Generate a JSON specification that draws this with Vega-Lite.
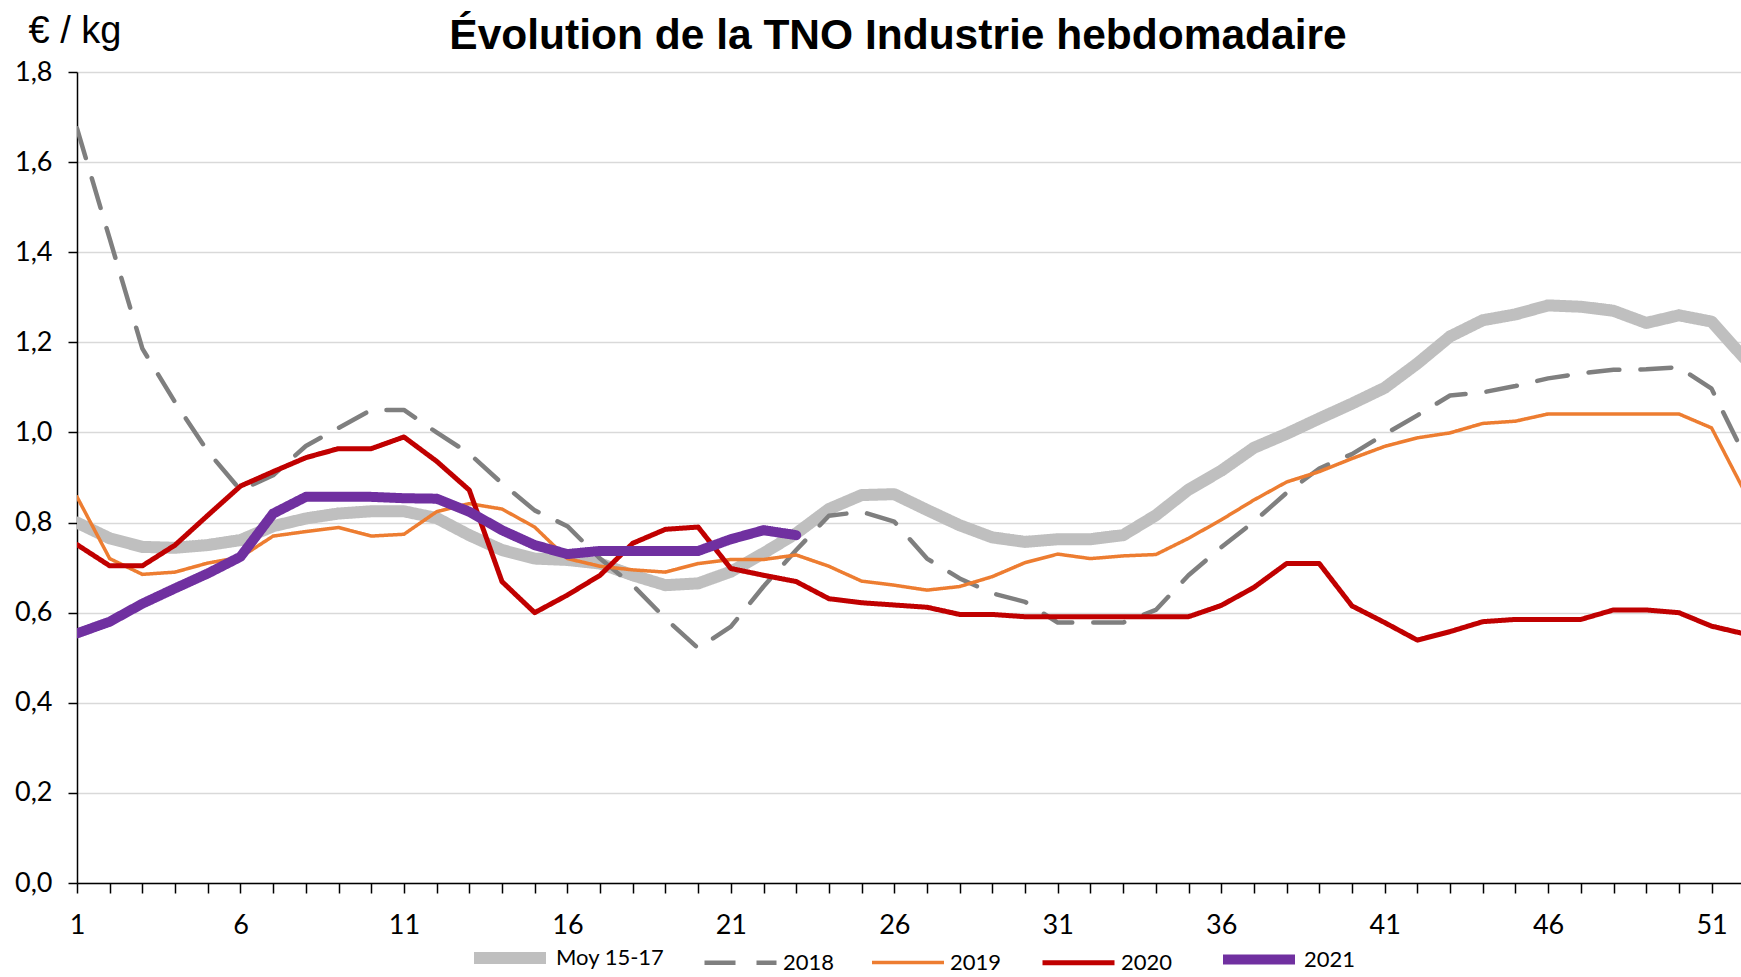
{
  "$schema": "https://vega.github.io/schema/vega-lite/v6.json",
  "autosize": {"type": "none"},
  "width": 1664,
  "height": 811,
  "padding": {"left": 77, "top": 72, "right": 0, "bottom": 94},
  "background": "white",
  "title": {
    "text": "Évolution de la TNO Industrie hebdomadaire",
    "font": "Liberation Sans",
    "fontWeight": "bold",
    "fontSize": 42.5,
    "color": "#000000",
    "anchor": "middle",
    "frame": "group",
    "baseline": "alphabetic",
    "offset": -79,
    "dx": -11
  },
  "config": {
    "view": {"stroke": null},
    "axis": {"labelFont": "Lato", "labelColor": "#000000", "titleFont": "Liberation Sans"},
    "legend": {"labelFont": "Lato"}
  },
  "data": {
    "values": [
      {"week": 1, "series": "Moy 15-17", "price": 0.80},
      {"week": 2, "series": "Moy 15-17", "price": 0.765},
      {"week": 3, "series": "Moy 15-17", "price": 0.746},
      {"week": 4, "series": "Moy 15-17", "price": 0.744},
      {"week": 5, "series": "Moy 15-17", "price": 0.75},
      {"week": 6, "series": "Moy 15-17", "price": 0.761},
      {"week": 7, "series": "Moy 15-17", "price": 0.792},
      {"week": 8, "series": "Moy 15-17", "price": 0.809},
      {"week": 9, "series": "Moy 15-17", "price": 0.82},
      {"week": 10, "series": "Moy 15-17", "price": 0.825},
      {"week": 11, "series": "Moy 15-17", "price": 0.825},
      {"week": 12, "series": "Moy 15-17", "price": 0.81},
      {"week": 13, "series": "Moy 15-17", "price": 0.772},
      {"week": 14, "series": "Moy 15-17", "price": 0.739},
      {"week": 15, "series": "Moy 15-17", "price": 0.72},
      {"week": 16, "series": "Moy 15-17", "price": 0.717},
      {"week": 17, "series": "Moy 15-17", "price": 0.709},
      {"week": 18, "series": "Moy 15-17", "price": 0.683},
      {"week": 19, "series": "Moy 15-17", "price": 0.661},
      {"week": 20, "series": "Moy 15-17", "price": 0.665},
      {"week": 21, "series": "Moy 15-17", "price": 0.691},
      {"week": 22, "series": "Moy 15-17", "price": 0.732},
      {"week": 23, "series": "Moy 15-17", "price": 0.776},
      {"week": 24, "series": "Moy 15-17", "price": 0.83},
      {"week": 25, "series": "Moy 15-17", "price": 0.861},
      {"week": 26, "series": "Moy 15-17", "price": 0.863},
      {"week": 27, "series": "Moy 15-17", "price": 0.828},
      {"week": 28, "series": "Moy 15-17", "price": 0.794},
      {"week": 29, "series": "Moy 15-17", "price": 0.767},
      {"week": 30, "series": "Moy 15-17", "price": 0.757},
      {"week": 31, "series": "Moy 15-17", "price": 0.763},
      {"week": 32, "series": "Moy 15-17", "price": 0.763},
      {"week": 33, "series": "Moy 15-17", "price": 0.772},
      {"week": 34, "series": "Moy 15-17", "price": 0.816},
      {"week": 35, "series": "Moy 15-17", "price": 0.873},
      {"week": 36, "series": "Moy 15-17", "price": 0.915},
      {"week": 37, "series": "Moy 15-17", "price": 0.966},
      {"week": 38, "series": "Moy 15-17", "price": 0.997},
      {"week": 39, "series": "Moy 15-17", "price": 1.031},
      {"week": 40, "series": "Moy 15-17", "price": 1.064},
      {"week": 41, "series": "Moy 15-17", "price": 1.099},
      {"week": 42, "series": "Moy 15-17", "price": 1.153},
      {"week": 43, "series": "Moy 15-17", "price": 1.213},
      {"week": 44, "series": "Moy 15-17", "price": 1.249},
      {"week": 45, "series": "Moy 15-17", "price": 1.262},
      {"week": 46, "series": "Moy 15-17", "price": 1.282},
      {"week": 47, "series": "Moy 15-17", "price": 1.279},
      {"week": 48, "series": "Moy 15-17", "price": 1.27},
      {"week": 49, "series": "Moy 15-17", "price": 1.243},
      {"week": 50, "series": "Moy 15-17", "price": 1.26},
      {"week": 51, "series": "Moy 15-17", "price": 1.246},
      {"week": 52, "series": "Moy 15-17", "price": 1.165},
      {"week": 1, "series": "2018", "price": 1.675},
      {"week": 2, "series": "2018", "price": 1.43},
      {"week": 3, "series": "2018", "price": 1.186},
      {"week": 4, "series": "2018", "price": 1.067},
      {"week": 5, "series": "2018", "price": 0.958},
      {"week": 6, "series": "2018", "price": 0.872},
      {"week": 7, "series": "2018", "price": 0.905},
      {"week": 8, "series": "2018", "price": 0.97},
      {"week": 9, "series": "2018", "price": 1.01},
      {"week": 10, "series": "2018", "price": 1.05},
      {"week": 11, "series": "2018", "price": 1.05},
      {"week": 12, "series": "2018", "price": 1.0},
      {"week": 13, "series": "2018", "price": 0.953},
      {"week": 14, "series": "2018", "price": 0.887},
      {"week": 15, "series": "2018", "price": 0.827},
      {"week": 16, "series": "2018", "price": 0.792},
      {"week": 17, "series": "2018", "price": 0.72},
      {"week": 18, "series": "2018", "price": 0.661},
      {"week": 19, "series": "2018", "price": 0.587},
      {"week": 20, "series": "2018", "price": 0.521},
      {"week": 21, "series": "2018", "price": 0.569},
      {"week": 22, "series": "2018", "price": 0.658},
      {"week": 23, "series": "2018", "price": 0.739},
      {"week": 24, "series": "2018", "price": 0.815},
      {"week": 25, "series": "2018", "price": 0.824},
      {"week": 26, "series": "2018", "price": 0.802},
      {"week": 27, "series": "2018", "price": 0.72},
      {"week": 28, "series": "2018", "price": 0.676},
      {"week": 29, "series": "2018", "price": 0.643},
      {"week": 30, "series": "2018", "price": 0.624},
      {"week": 31, "series": "2018", "price": 0.578},
      {"week": 32, "series": "2018", "price": 0.578},
      {"week": 33, "series": "2018", "price": 0.578},
      {"week": 34, "series": "2018", "price": 0.606},
      {"week": 35, "series": "2018", "price": 0.683},
      {"week": 36, "series": "2018", "price": 0.745},
      {"week": 37, "series": "2018", "price": 0.802},
      {"week": 38, "series": "2018", "price": 0.866},
      {"week": 39, "series": "2018", "price": 0.92},
      {"week": 40, "series": "2018", "price": 0.952},
      {"week": 41, "series": "2018", "price": 0.996},
      {"week": 42, "series": "2018", "price": 1.038},
      {"week": 43, "series": "2018", "price": 1.082},
      {"week": 44, "series": "2018", "price": 1.089},
      {"week": 45, "series": "2018", "price": 1.103},
      {"week": 46, "series": "2018", "price": 1.12},
      {"week": 47, "series": "2018", "price": 1.131},
      {"week": 48, "series": "2018", "price": 1.139},
      {"week": 49, "series": "2018", "price": 1.14},
      {"week": 50, "series": "2018", "price": 1.145},
      {"week": 51, "series": "2018", "price": 1.097},
      {"week": 52, "series": "2018", "price": 0.95},
      {"week": 1, "series": "2019", "price": 0.857},
      {"week": 2, "series": "2019", "price": 0.72},
      {"week": 3, "series": "2019", "price": 0.685},
      {"week": 4, "series": "2019", "price": 0.69},
      {"week": 5, "series": "2019", "price": 0.71},
      {"week": 6, "series": "2019", "price": 0.723},
      {"week": 7, "series": "2019", "price": 0.77},
      {"week": 8, "series": "2019", "price": 0.78},
      {"week": 9, "series": "2019", "price": 0.789},
      {"week": 10, "series": "2019", "price": 0.77},
      {"week": 11, "series": "2019", "price": 0.774},
      {"week": 12, "series": "2019", "price": 0.824},
      {"week": 13, "series": "2019", "price": 0.842},
      {"week": 14, "series": "2019", "price": 0.83},
      {"week": 15, "series": "2019", "price": 0.79},
      {"week": 16, "series": "2019", "price": 0.72},
      {"week": 17, "series": "2019", "price": 0.703},
      {"week": 18, "series": "2019", "price": 0.695},
      {"week": 19, "series": "2019", "price": 0.69},
      {"week": 20, "series": "2019", "price": 0.709},
      {"week": 21, "series": "2019", "price": 0.718},
      {"week": 22, "series": "2019", "price": 0.718},
      {"week": 23, "series": "2019", "price": 0.728},
      {"week": 24, "series": "2019", "price": 0.703},
      {"week": 25, "series": "2019", "price": 0.67},
      {"week": 26, "series": "2019", "price": 0.661},
      {"week": 27, "series": "2019", "price": 0.65},
      {"week": 28, "series": "2019", "price": 0.658},
      {"week": 29, "series": "2019", "price": 0.68},
      {"week": 30, "series": "2019", "price": 0.711},
      {"week": 31, "series": "2019", "price": 0.73},
      {"week": 32, "series": "2019", "price": 0.72},
      {"week": 33, "series": "2019", "price": 0.726},
      {"week": 34, "series": "2019", "price": 0.729},
      {"week": 35, "series": "2019", "price": 0.765},
      {"week": 36, "series": "2019", "price": 0.806},
      {"week": 37, "series": "2019", "price": 0.85},
      {"week": 38, "series": "2019", "price": 0.89},
      {"week": 39, "series": "2019", "price": 0.913},
      {"week": 40, "series": "2019", "price": 0.942},
      {"week": 41, "series": "2019", "price": 0.969},
      {"week": 42, "series": "2019", "price": 0.988},
      {"week": 43, "series": "2019", "price": 0.999},
      {"week": 44, "series": "2019", "price": 1.02},
      {"week": 45, "series": "2019", "price": 1.025},
      {"week": 46, "series": "2019", "price": 1.041},
      {"week": 47, "series": "2019", "price": 1.041},
      {"week": 48, "series": "2019", "price": 1.041},
      {"week": 49, "series": "2019", "price": 1.041},
      {"week": 50, "series": "2019", "price": 1.041},
      {"week": 51, "series": "2019", "price": 1.01},
      {"week": 52, "series": "2019", "price": 0.87},
      {"week": 1, "series": "2020", "price": 0.751},
      {"week": 2, "series": "2020", "price": 0.704},
      {"week": 3, "series": "2020", "price": 0.704},
      {"week": 4, "series": "2020", "price": 0.75},
      {"week": 5, "series": "2020", "price": 0.816},
      {"week": 6, "series": "2020", "price": 0.881},
      {"week": 7, "series": "2020", "price": 0.913},
      {"week": 8, "series": "2020", "price": 0.944},
      {"week": 9, "series": "2020", "price": 0.964},
      {"week": 10, "series": "2020", "price": 0.964},
      {"week": 11, "series": "2020", "price": 0.99},
      {"week": 12, "series": "2020", "price": 0.936},
      {"week": 13, "series": "2020", "price": 0.872},
      {"week": 14, "series": "2020", "price": 0.669},
      {"week": 15, "series": "2020", "price": 0.60},
      {"week": 16, "series": "2020", "price": 0.639},
      {"week": 17, "series": "2020", "price": 0.683},
      {"week": 18, "series": "2020", "price": 0.754},
      {"week": 19, "series": "2020", "price": 0.785},
      {"week": 20, "series": "2020", "price": 0.79},
      {"week": 21, "series": "2020", "price": 0.698},
      {"week": 22, "series": "2020", "price": 0.683},
      {"week": 23, "series": "2020", "price": 0.669},
      {"week": 24, "series": "2020", "price": 0.631},
      {"week": 25, "series": "2020", "price": 0.622},
      {"week": 26, "series": "2020", "price": 0.617},
      {"week": 27, "series": "2020", "price": 0.612},
      {"week": 28, "series": "2020", "price": 0.596},
      {"week": 29, "series": "2020", "price": 0.596},
      {"week": 30, "series": "2020", "price": 0.591},
      {"week": 31, "series": "2020", "price": 0.591},
      {"week": 32, "series": "2020", "price": 0.591},
      {"week": 33, "series": "2020", "price": 0.591},
      {"week": 34, "series": "2020", "price": 0.591},
      {"week": 35, "series": "2020", "price": 0.591},
      {"week": 36, "series": "2020", "price": 0.616},
      {"week": 37, "series": "2020", "price": 0.656},
      {"week": 38, "series": "2020", "price": 0.709},
      {"week": 39, "series": "2020", "price": 0.709},
      {"week": 40, "series": "2020", "price": 0.615},
      {"week": 41, "series": "2020", "price": 0.578},
      {"week": 42, "series": "2020", "price": 0.539},
      {"week": 43, "series": "2020", "price": 0.558},
      {"week": 44, "series": "2020", "price": 0.58},
      {"week": 45, "series": "2020", "price": 0.585},
      {"week": 46, "series": "2020", "price": 0.585},
      {"week": 47, "series": "2020", "price": 0.585},
      {"week": 48, "series": "2020", "price": 0.606},
      {"week": 49, "series": "2020", "price": 0.606},
      {"week": 50, "series": "2020", "price": 0.6},
      {"week": 51, "series": "2020", "price": 0.57},
      {"week": 52, "series": "2020", "price": 0.553},
      {"week": 1, "series": "2021", "price": 0.554},
      {"week": 2, "series": "2021", "price": 0.58},
      {"week": 3, "series": "2021", "price": 0.62},
      {"week": 4, "series": "2021", "price": 0.654},
      {"week": 5, "series": "2021", "price": 0.687},
      {"week": 6, "series": "2021", "price": 0.724},
      {"week": 7, "series": "2021", "price": 0.82},
      {"week": 8, "series": "2021", "price": 0.857},
      {"week": 9, "series": "2021", "price": 0.857},
      {"week": 10, "series": "2021", "price": 0.857},
      {"week": 11, "series": "2021", "price": 0.854},
      {"week": 12, "series": "2021", "price": 0.853},
      {"week": 13, "series": "2021", "price": 0.824},
      {"week": 14, "series": "2021", "price": 0.783},
      {"week": 15, "series": "2021", "price": 0.75},
      {"week": 16, "series": "2021", "price": 0.73},
      {"week": 17, "series": "2021", "price": 0.737},
      {"week": 18, "series": "2021", "price": 0.737},
      {"week": 19, "series": "2021", "price": 0.737},
      {"week": 20, "series": "2021", "price": 0.737},
      {"week": 21, "series": "2021", "price": 0.763},
      {"week": 22, "series": "2021", "price": 0.783},
      {"week": 23, "series": "2021", "price": 0.772}
    ]
  },
  "mark": {"type": "line", "clip": true, "strokeCap": "round", "strokeJoin": "round"},
  "encoding": {
    "x": {
      "field": "week",
      "type": "quantitative",
      "scale": {"domain": [1, 51.9], "nice": false, "zero": false},
      "axis": {
        "title": null,
        "values": [1,2,3,4,5,6,7,8,9,10,11,12,13,14,15,16,17,18,19,20,21,22,23,24,25,26,27,28,29,30,31,32,33,34,35,36,37,38,39,40,41,42,43,44,45,46,47,48,49,50,51],
        "labelExpr": "(datum.value - 1) % 5 == 0 ? datum.label : ''",
        "grid": false,
        "domainColor": "#000000",
        "domainWidth": 1.5,
        "tickColor": "#000000",
        "tickWidth": 1.5,
        "tickSize": 10,
        "labelFontSize": 27,
        "labelPadding": 19,
        "labelFlush": false,
        "labelOverlap": false
      }
    },
    "y": {
      "field": "price",
      "type": "quantitative",
      "scale": {"domain": [0, 1.8], "nice": false},
      "axis": {
        "values": [0, 0.2, 0.4, 0.6, 0.8, 1.0, 1.2, 1.4, 1.6, 1.8],
        "labelExpr": "replace(format(datum.value, '.1f'), '.', ',')",
        "grid": true,
        "gridColor": "#D9D9D9",
        "gridWidth": 1.5,
        "domainColor": "#000000",
        "domainWidth": 1.5,
        "tickColor": "#000000",
        "tickWidth": 1.5,
        "tickSize": 9,
        "labelFontSize": 27,
        "labelPadding": 16,
        "title": "€ / kg",
        "titleAngle": 0,
        "titleFont": "Liberation Sans",
        "titleFontWeight": "normal",
        "titleFontSize": 38,
        "titleColor": "#000000",
        "titleAlign": "left",
        "titleBaseline": "middle",
        "titleX": -49,
        "titleY": -41
      }
    },
    "color": {
      "field": "series",
      "type": "nominal",
      "scale": {
        "domain": ["Moy 15-17", "2018", "2019", "2020", "2021"],
        "range": ["#BFBFBF", "#7F7F7F", "#ED7D31", "#C00000", "#7030A0"]
      },
      "legend": {
        "title": null,
        "orient": "none",
        "legendX": 391,
        "legendY": 844,
        "direction": "horizontal",
        "symbolType": "stroke",
        "symbolSize": 5184,
        "labelFontSize": 22,
        "labelColor": "#000000",
        "labelOffset": 4,
        "columnPadding": 30
      }
    },
    "strokeDash": {
      "field": "series",
      "type": "nominal",
      "scale": {
        "domain": ["Moy 15-17", "2018", "2019", "2020", "2021"],
        "range": [[1, 0], [31, 21], [1, 0], [1, 0], [1, 0]]
      },
      "legend": null
    },
    "strokeWidth": {
      "field": "series",
      "type": "nominal",
      "scale": {
        "type": "ordinal",
        "domain": ["Moy 15-17", "2018", "2019", "2020", "2021"],
        "range": [12, 4.5, 3.5, 5, 10]
      },
      "legend": null
    }
  }
}
